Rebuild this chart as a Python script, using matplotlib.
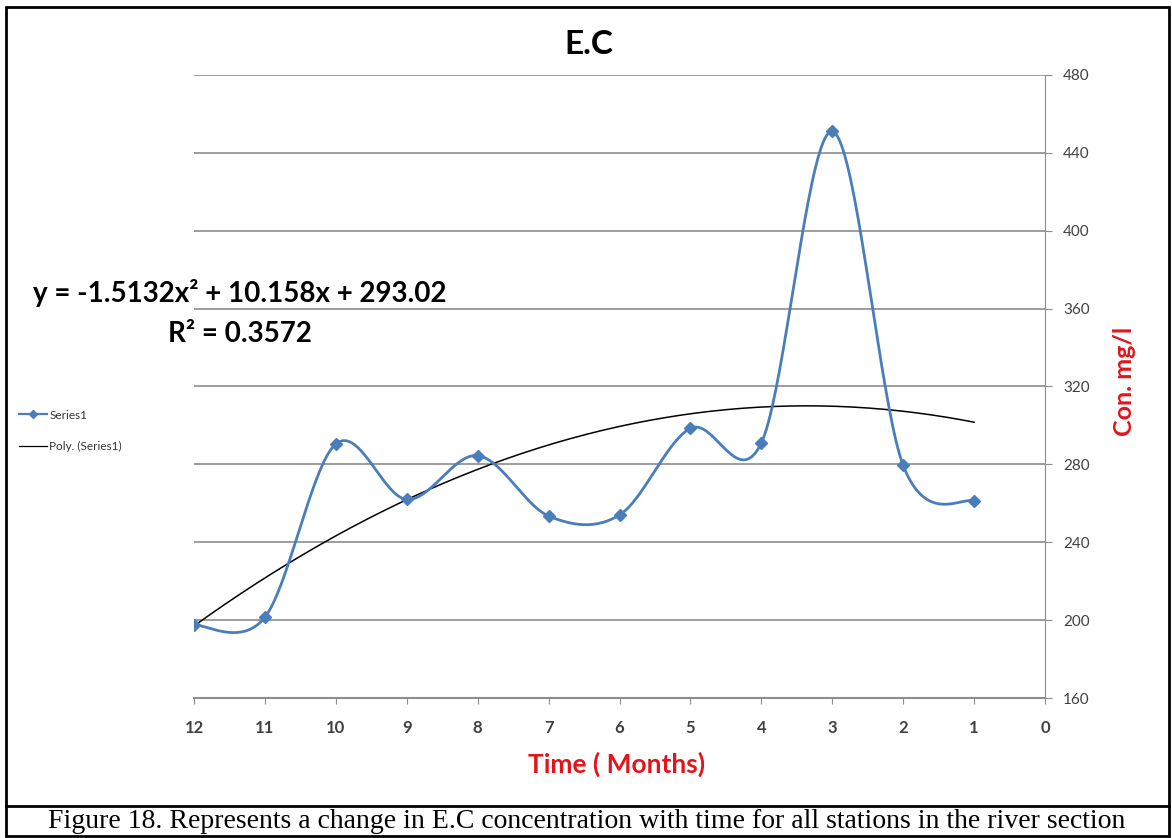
import numpy as np
import matplotlib
matplotlib.use("Agg")
import matplotlib.pyplot as plt
from matplotlib.lines import Line2D
from matplotlib.patches import Rectangle

# E.C readings per month (month 12 on the left, month 1 on the right)
months = [12, 11, 10, 9, 8, 7, 6, 5, 4, 3, 2, 1]
ec_values = [197.5, 201.5, 290.5, 262, 284.5, 253.5, 254, 298.5, 291, 451, 279.5, 261]

# 2nd order trendline: y = a*x^2 + b*x + c
trend_coef = [-1.5132, 10.158, 293.02]
r_squared = 0.3572

x_ticks = list(range(0, 13))
y_ticks = list(range(160, 481, 40))

blue = "#4A7EBB"
red = "#E3141B"
grid_grey = "#8C8C8C"

plt.rcParams["font.family"] = ["Lato", "DejaVu Sans"]

W, H = 1172, 838
fig = plt.figure(figsize=(W / 100, H / 100), dpi=100)


def px(x, y):
    # pixel position (from top-left) -> figure fraction
    return x / W, 1 - y / H


def smooth(xs, ys, n=40):
    # bezier smoothing through every point, like a spreadsheet "smoothed line"
    xs = np.asarray(xs, float)
    ys = np.asarray(ys, float)
    px_ = np.concatenate([[xs[0]], xs, [xs[-1]]])
    py_ = np.concatenate([[ys[0]], ys, [ys[-1]]])
    out_x, out_y = [], []
    t = np.linspace(0, 1, n)
    for i in range(1, len(px_) - 2):
        p0 = np.array([px_[i], py_[i]])
        p3 = np.array([px_[i + 1], py_[i + 1]])
        c1 = p0 + (np.array([px_[i + 1], py_[i + 1]]) - np.array([px_[i - 1], py_[i - 1]])) / 6
        c2 = p3 - (np.array([px_[i + 2], py_[i + 2]]) - np.array([px_[i], py_[i]])) / 6
        bx = (1 - t) ** 3 * p0[0] + 3 * (1 - t) ** 2 * t * c1[0] + 3 * (1 - t) * t ** 2 * c2[0] + t ** 3 * p3[0]
        by = (1 - t) ** 3 * p0[1] + 3 * (1 - t) ** 2 * t * c1[1] + 3 * (1 - t) * t ** 2 * c2[1] + t ** 3 * p3[1]
        out_x.extend(bx)
        out_y.extend(by)
    return np.array(out_x), np.array(out_y)


left, right = px(194, 0)[0], px(1045, 0)[0]
bottom, top = px(0, 698)[1], px(0, 75)[1]
ax = fig.add_axes([left, bottom, right - left, top - bottom])

# gridlines
for v in y_ticks[1:]:
    ax.axhline(v, color=grid_grey, lw=1.2, zorder=1)

# series, smoothed
sx, sy = smooth(months, ec_values)
ax.plot(sx, sy, color=blue, lw=2.0, zorder=3)
ax.plot(months, ec_values, ls="none", marker="D", ms=6, color=blue, zorder=4)

# polynomial trend
tx = np.linspace(months[0], months[-1], 200)
ty = np.polyval(trend_coef, tx)
ax.plot(tx, ty, color="black", lw=1.1, zorder=2)

ax.set_xlim(12, 0)
ax.set_ylim(160, 480)
ax.set_xticks(x_ticks)
ax.set_yticks(y_ticks)

ax.yaxis.tick_right()
for s in ["left", "top"]:
    ax.spines[s].set_visible(False)
ax.spines["right"].set_color(grid_grey)
ax.spines["bottom"].set_color(grid_grey)
ax.spines["bottom"].set_linewidth(1.5)
ax.tick_params(axis="x", direction="out", length=4, color=grid_grey, pad=12,
               labelsize=12, labelcolor="#404040")
ax.tick_params(axis="y", direction="out", length=5, color=grid_grey, pad=8,
               labelsize=11, labelcolor="#404040")
for lab in ax.get_xticklabels():
    lab.set_fontweight("bold")

# title, axis titles
fig.text(*px(589, 45), "E.C", fontsize=24, fontweight="bold", ha="center", va="center")
fig.text(*px(617, 764), "Time ( Months)", fontsize=19, fontweight="bold",
         color=red, ha="center", va="center")
fig.text(*px(1125, 381), "Con. mg/l", fontsize=18, fontweight="bold",
         color=red, ha="center", va="center", rotation=90)

# trend equation
eq = "y = {:.4f}x\u00b2 + {:.3f}x + {:.2f}".format(*trend_coef)
fig.text(*px(240, 293), eq, fontsize=20, fontweight="bold", ha="center", va="center")
fig.text(*px(240, 334), "R\u00b2 = {:.4f}".format(r_squared), fontsize=20,
         fontweight="bold", ha="center", va="center")

# legend
handles = [
    Line2D([], [], color=blue, lw=1.6, marker="D", ms=4),
    Line2D([], [], color="black", lw=0.9),
]
fig.legend(handles, ["Series1", "Poly. (Series1)"], loc="upper left",
           bbox_to_anchor=px(8, 399), frameon=False, fontsize=8.5,
           handlelength=2.4, handletextpad=0.2, labelspacing=1.7,
           labelcolor="#333333")

# frame and caption
fig.add_artist(Rectangle(px(6, 836), (1169 - 6) / W, (836 - 7) / H,
                         transform=fig.transFigure, fill=False, lw=2, ec="black"))
fig.add_artist(Line2D([6 / W, 1169 / W], [1 - 806 / H] * 2,
                      transform=fig.transFigure, color="black", lw=2))
fig.text(*px(587, 821), "Figure 18. Represents a change in E.C concentration with time "
         "for all stations in the river section", fontsize=20,
         family="Liberation Serif", ha="center", va="center")

fig.savefig("out.png", dpi=100)
